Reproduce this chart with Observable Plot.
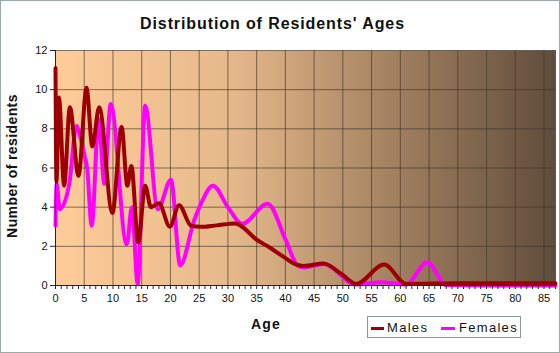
<!DOCTYPE html>
<html>
<head>
<meta charset="utf-8">
<script src="https://cdn.jsdelivr.net/npm/d3@7"></script>
<script src="https://cdn.jsdelivr.net/npm/@observablehq/plot@0.6"></script>
<style>
  html, body { margin: 0; padding: 0; background: #ffffff; }
  #wrap { position: relative; width: 560px; height: 353px; overflow: hidden; background: #ffffff;
          font-family: "Liberation Sans", Arial, sans-serif; color: #111; }
  #border { position: absolute; left: 0; top: 0; width: 558px; height: 351px; border: 1px solid #9aa; pointer-events: none; }
  #title { position: absolute; left: 0; top: 15px; width: 545px; text-align: center; font-weight: bold;
           font-size: 16px; letter-spacing: 0.9px; }
  #ylab { position: absolute; left: 12px; top: 166px; transform: translate(-50%, -50%) rotate(-90deg);
          white-space: nowrap; font-weight: bold; font-size: 14px; letter-spacing: 0.4px; }
  #xlab { position: absolute; left: 266px; top: 324px; transform: translate(-50%, -50%);
          font-weight: bold; font-size: 14px; letter-spacing: 1.2px; }
  #legend { position: absolute; left: 367px; top: 316px; width: 154px; height: 22px; border: 1px solid #8a9a9a; box-sizing: border-box; }
  .sw { position: absolute; top: 10px; height: 3px; }
  .lt { position: absolute; top: 3px; font-size: 13px; letter-spacing: 1.3px; }
  #chart { position: absolute; left: 0; top: 0; }
</style>
</head>
<body>
<div id="wrap">
  <div id="chart"></div>
  <div id="title">Distribution of Residents' Ages</div>
  <div id="ylab">Number of residents</div>
  <div id="xlab">Age</div>
  <div id="legend">
    <div class="sw" style="left:3px;width:13px;background:#9c0000"></div>
    <div class="lt" style="left:19px">Males</div>
    <div class="sw" style="left:73px;width:14px;background:#ff00ff"></div>
    <div class="lt" style="left:91px">Females</div>
  </div>
  <div id="border"></div>
</div>
<script>
// Males: ages (x) and number of residents (y)
const maleAge = [0, 0.17, 0.6, 1.5, 2.5, 4.0, 5.4, 6.4, 7.6, 9.9, 11.5, 12.5, 13.2, 14.4, 15.6, 16.6, 18.0, 19.9, 21.5, 23.6, 25.3, 28, 31.2, 35.2, 37.2, 39.5, 41.8, 43.2, 46.6, 49.7, 52.3, 57.2, 61, 70, 80, 87];
const maleVal = [11.1, 5.3, 9.6, 5.1, 9.1, 5.6, 10.1, 7.1, 9.1, 3.7, 8.1, 5.1, 6.1, 2.2, 5.1, 4.0, 4.2, 3.0, 4.1, 3.05, 3.0, 3.07, 3.17, 2.3, 1.95, 1.5, 1.08, 1.0, 1.12, 0.6, 0.08, 1.07, 0.08, 0.12, 0.12, 0.12];

// Females
const femAge = [0, 0.2, 0.75, 2.4, 3.65, 4.3, 5.0, 5.5, 6.3, 7.5, 8.5, 9.6, 12.4, 13.3, 14.3, 15.6, 17.8, 20.1, 21.7, 24.1, 25.3, 27.4, 30.0, 32.5, 36.9, 40.1, 42.2, 43.3, 46.7, 52.3, 56.7, 61, 64.7, 68, 75, 87];
const femVal = [3.06, 5.2, 3.9, 5.2, 8.15, 7.6, 6.7, 6.0, 3.06, 8.5, 5.2, 9.27, 2.1, 4.0, 0.09, 9.18, 3.9, 5.4, 1.02, 3.3, 4.17, 5.1, 4.0, 3.15, 4.17, 2.3, 1.0, 0.93, 1.1, 0.05, 0.17, 0.05, 1.19, 0.02, 0, 0];

// Axis ticks
const xLabelTicks = [0, 5, 10, 15, 20, 25, 30, 35, 40, 45, 50, 55, 60, 65, 70, 75, 80, 85];
const xMinorTicks = d3.range(0, 88);
const yTicks = [0, 2, 4, 6, 8, 10, 12];

const males = maleAge.map((a, i) => ({age: a, n: maleVal[i]}));
const females = femAge.map((a, i) => ({age: a, n: femVal[i]}));

const chart = Plot.plot({
  width: 560,
  height: 353,
  marginLeft: 55,
  marginRight: 5,
  marginTop: 50,
  marginBottom: 68,
  style: {background: "transparent", fontFamily: "'Liberation Sans', Arial, sans-serif", fontSize: "11px", color: "#111", overflow: "visible"},
  x: {domain: [0, 87], label: null},
  y: {domain: [0, 12], label: null},
  marks: [
    Plot.frame({fill: "url(#bggrad)", stroke: "none"}),
    Plot.gridX(xLabelTicks, {stroke: "#3c342c", strokeOpacity: 0.65, strokeWidth: 1}),
    Plot.gridY(yTicks, {stroke: "#3c342c", strokeOpacity: 0.65, strokeWidth: 1}),
    Plot.ruleX([87], {stroke: "#3c342c", strokeOpacity: 0.7}),
    Plot.line(females, {x: "age", y: "n", stroke: "#ff00ff", strokeWidth: 4, curve: "monotone-x"}),
    Plot.line(males, {x: "age", y: "n", stroke: "#9c0000", strokeWidth: 4, curve: "monotone-x"}),
    Plot.axisX({ticks: xMinorTicks, tickSize: 4, tickPadding: 5, tickFormat: d => (d % 5 === 0 && d <= 85) ? String(d) : "", fontSize: 11, letterSpacing: 0.6, stroke: "#224"}),
    Plot.axisY({ticks: yTicks, tickSize: 5, tickPadding: 3, fontSize: 11, stroke: "#224"}),
    Plot.ruleY([0], {stroke: "#223"}),
    Plot.ruleX([0], {stroke: "#223"})
  ]
});

const ns = "http://www.w3.org/2000/svg";
const defs = document.createElementNS(ns, "defs");
const grad = document.createElementNS(ns, "linearGradient");
grad.setAttribute("id", "bggrad");
grad.setAttribute("x1", "0"); grad.setAttribute("x2", "1");
grad.setAttribute("y1", "0"); grad.setAttribute("y2", "0");
[["0%", "#ffcc99"], ["35%", "#e6b98b"], ["65%", "#a88563"], ["100%", "#5f4c3b"]].forEach(([o, c]) => {
  const s = document.createElementNS(ns, "stop");
  s.setAttribute("offset", o); s.setAttribute("stop-color", c);
  grad.appendChild(s);
});
defs.appendChild(grad);
chart.insertBefore(defs, chart.firstChild);
document.getElementById("chart").appendChild(chart);
</script>
</body>
</html>
